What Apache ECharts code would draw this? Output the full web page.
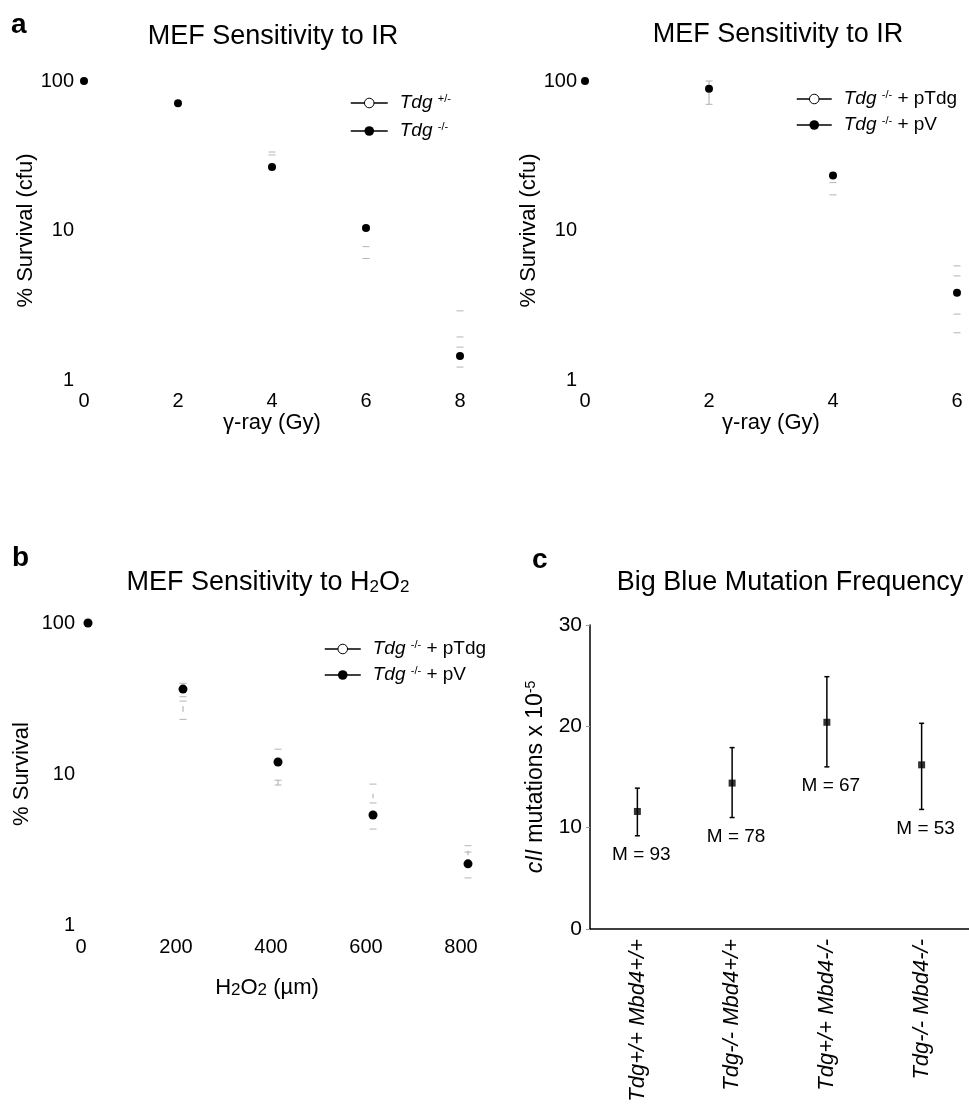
<!DOCTYPE html>
<html>
<head>
<meta charset="utf-8">
<script src="https://cdn.jsdelivr.net/npm/echarts@6/dist/echarts.min.js"></script>
<style>
  html, body { margin: 0; padding: 0; background: #fff; }
  #main { width: 969px; height: 1105px; }
</style>
</head>
<body>
<div id="main"></div>
<script>
// panel a (left): IR dose vs survival, Tdg-/- dots
const doseA1 = [0, 2, 4, 6, 8];
const survKoA1 = [100, 71, 26.6, 10.4, 1.45];
// faint grey error caps [dose, value]
const capsA1 = [[4, 33.5], [4, 32.0], [6, 7.8], [6, 6.5], [8, 2.9], [8, 1.94], [8, 1.66], [8, 1.22]];

// panel a (right): complemented cells
const doseA2 = [0, 2, 4, 6];
const survPvA2 = [100, 88.9, 23.3, 3.84];
const capsA2 = [[2, 100], [2, 69.8], [4, 20.9], [4, 17.3], [6, 5.8], [6, 4.97], [6, 2.76], [6, 2.07]];
const stemsA2 = [[2, 69.8, 100]];

// panel b: H2O2 dose vs survival
const doseB = [0, 200, 400, 600, 800];
const survPvB = [100, 36.5, 12.0, 5.35, 2.54];
const capsB = [[200, 39.9], [200, 32.5], [200, 30.4], [200, 23.0], [400, 14.6], [400, 9.1], [400, 8.45],
  [600, 8.57], [600, 6.43], [600, 4.32], [800, 3.35], [800, 3.04], [800, 2.05]];
const stemsB = [[200, 25.8, 28.2], [400, 8.45, 9.1], [600, 6.9, 7.4], [800, 2.9, 3.1]];

// panel c: Big Blue mutation frequency
const genotypes = ['Tdg+/+ Mbd4+/+', 'Tdg-/- Mbd4+/+', 'Tdg+/+ Mbd4-/-', 'Tdg-/- Mbd4-/-'];
const mutFreq = [11.6, 14.4, 20.4, 16.2];
const mutLow = [9.2, 11.0, 16.0, 11.8];
const mutHigh = [13.9, 17.9, 24.9, 20.3];
const mouseCounts = [93, 78, 67, 53];

const FONT = '"Liberation Sans", Arial, sans-serif';

const legendText = {
  a1_het: '{i|Tdg} {s|+/-}',
  a1_ko: '{i|Tdg} {s|-/-}',
  a2_ptdg: '{i|Tdg} {s|-/-} + pTdg',
  a2_pv: '{i|Tdg} {s|-/-} + pV',
  b_ptdg: '{i|Tdg} {s|-/-} + pTdg',
  b_pv: '{i|Tdg} {s|-/-} + pV'
};

function renderCap(params, api) {
  const p = api.coord([api.value(0), api.value(1)]);
  return {
    type: 'line',
    shape: { x1: p[0] - 3.5, y1: p[1], x2: p[0] + 3.5, y2: p[1] },
    style: { stroke: '#b4b4b4', lineWidth: 1 }
  };
}

function renderStem(params, api) {
  const a = api.coord([api.value(0), api.value(1)]);
  const b = api.coord([api.value(0), api.value(2)]);
  return {
    type: 'line',
    shape: { x1: a[0], y1: a[1], x2: b[0], y2: b[1] },
    style: { stroke: '#a8a8a8', lineWidth: 1 }
  };
}

function renderMutBar(params, api) {
  const i = api.value(0);
  const lo = api.coord([i, api.value(2)]);
  const hi = api.coord([i, api.value(3)]);
  const s = { stroke: '#000', lineWidth: 1.5 };
  return {
    type: 'group',
    children: [
      { type: 'line', shape: { x1: lo[0], y1: lo[1], x2: hi[0], y2: hi[1] }, style: s },
      { type: 'line', shape: { x1: lo[0] - 2.5, y1: lo[1], x2: lo[0] + 2.5, y2: lo[1] }, style: s },
      { type: 'line', shape: { x1: hi[0] - 2.5, y1: hi[1], x2: hi[0] + 2.5, y2: hi[1] }, style: s },
      {
        type: 'text',
        style: {
          text: 'M = ' + api.value(4), x: lo[0] + 4, y: lo[1] + 19,
          fill: '#000', fontSize: 19, fontFamily: FONT, align: 'center', verticalAlign: 'middle'
        }
      }
    ]
  };
}

function makeLegend(names, left, top, width, gap) {
  return {
    orient: 'vertical',
    left: left,
    top: top,
    itemWidth: width,
    itemHeight: 12,
    itemGap: gap,
    selectedMode: false,
    data: [
      { name: names[0], itemStyle: { color: '#fff', borderColor: '#000', borderWidth: 1 } },
      { name: names[1], itemStyle: { color: '#000' } }
    ],
    lineStyle: { color: '#000', width: 1.5, opacity: 1 },
    formatter: function (name) { return legendText[name]; },
    textStyle: {
      fontFamily: FONT, fontSize: 19, color: '#000', lineHeight: 20, padding: [0, 0, 0, 7],
      rich: {
        i: { fontStyle: 'italic', fontSize: 19, fontFamily: FONT, lineHeight: 20 },
        s: { fontSize: 11, fontFamily: FONT, lineHeight: 10, verticalAlign: 'top' }
      }
    }
  };
}

function logAxis(grid, name, gap, margin) {
  return {
    type: 'log', gridIndex: grid, logBase: 10, min: 1, max: 100,
    axisLine: { show: false }, axisTick: { show: false }, splitLine: { show: false },
    axisLabel: { fontFamily: FONT, fontSize: 20, color: '#000', margin: margin },
    name: name, nameLocation: 'middle', nameGap: gap,
    nameTextStyle: { fontFamily: FONT, fontSize: 22, color: '#000' }
  };
}

function doseAxis(grid, max, interval) {
  return {
    type: 'value', gridIndex: grid, min: 0, max: max, interval: interval,
    axisLine: { show: false }, axisTick: { show: false }, splitLine: { show: false },
    axisLabel: { fontFamily: FONT, fontSize: 20, color: '#000', margin: 11 },
    name: 'γ-ray (Gy)', nameLocation: 'middle', nameGap: 32,
    nameTextStyle: { fontFamily: FONT, fontSize: 22, color: '#000' }
  };
}

const subRich = {
  sub: { fontSize: 17, fontFamily: FONT, lineHeight: 12, verticalAlign: 'bottom' }
};

const chart = echarts.init(document.getElementById('main'));

const option = {
  animation: false,
  backgroundColor: '#fff',
  title: [
    { text: 'a', left: 6, top: 6, textStyle: { fontFamily: FONT, fontSize: 28, fontWeight: 'bold', color: '#000' } },
    { text: 'b', left: 7, top: 539, textStyle: { fontFamily: FONT, fontSize: 28, fontWeight: 'bold', color: '#000' } },
    { text: 'c', left: 527, top: 541, textStyle: { fontFamily: FONT, fontSize: 28, fontWeight: 'bold', color: '#000' } },
    { text: 'MEF Sensitivity to IR', left: 268, top: 18, textAlign: 'center',
      textStyle: { fontFamily: FONT, fontSize: 27, fontWeight: 'normal', color: '#000' } },
    { text: 'MEF Sensitivity to IR', left: 773, top: 16, textAlign: 'center',
      textStyle: { fontFamily: FONT, fontSize: 27, fontWeight: 'normal', color: '#000' } },
    { text: 'MEF Sensitivity to H{sub|2}O{sub|2}', left: 263, top: 564, textAlign: 'center',
      textStyle: { fontFamily: FONT, fontSize: 27, fontWeight: 'normal', color: '#000', rich: subRich } },
    { text: 'Big Blue Mutation Frequency', left: 785, top: 564, textAlign: 'center',
      textStyle: { fontFamily: FONT, fontSize: 27, fontWeight: 'normal', color: '#000' } }
  ],
  legend: [
    makeLegend(['a1_het', 'a1_ko'], 345, 88, 37, 8),
    makeLegend(['a2_ptdg', 'a2_pv'], 791, 84, 35, 6),
    makeLegend(['b_ptdg', 'b_pv'], 319, 634, 36, 6)
  ],
  grid: [
    { left: 84, top: 81, width: 376, height: 299 },
    { left: 585, top: 81, width: 372, height: 299 },
    { left: 88, top: 623, width: 380, height: 302 },
    { left: 590, top: 625, width: 380, height: 304 }
  ],
  xAxis: [
    doseAxis(0, 8, 2),
    doseAxis(1, 6, 2),
    {
      type: 'value', gridIndex: 2, min: 0, max: 800, interval: 200,
      axisLine: { show: false }, axisTick: { show: false }, splitLine: { show: false },
      axisLabel: { fontFamily: FONT, fontSize: 20, color: '#000', margin: 12, padding: [0, 14, 0, 0] },
      name: 'H{sub|2}O{sub|2} (µm)', nameLocation: 'middle', nameGap: 52,
      nameTextStyle: { fontFamily: FONT, fontSize: 22, color: '#000', padding: [0, 22, 0, 0], rich: subRich }
    },
    {
      type: 'category', gridIndex: 3, data: genotypes, boundaryGap: true,
      axisLine: { lineStyle: { color: '#000', width: 1.5 } },
      axisTick: { alignWithLabel: true, length: 5, lineStyle: { color: '#000', width: 1.5 } },
      axisLabel: { rotate: 90, interval: 0, margin: 10, fontFamily: FONT, fontSize: 22, fontStyle: 'italic', color: '#000' },
      splitLine: { show: false }
    }
  ],
  yAxis: [
    logAxis(0, '% Survival (cfu)', 40, 10),
    logAxis(1, '% Survival (cfu)', 37, 8),
    logAxis(2, '% Survival', 55, 13),
    {
      type: 'value', gridIndex: 3, min: 0, max: 30, interval: 10,
      axisLine: { show: true, lineStyle: { color: '#000', width: 1.5 } },
      axisTick: { show: true, length: 4, lineStyle: { color: '#999', width: 1 } },
      splitLine: { show: false },
      axisLabel: { fontFamily: FONT, fontSize: 21, color: '#000', margin: 8 },
      name: '{i|cII} mutations x 10{s|-5}', nameLocation: 'middle', nameGap: 43,
      nameTextStyle: {
        fontFamily: FONT, fontSize: 23, color: '#000',
        rich: {
          i: { fontStyle: 'italic', fontFamily: FONT, fontSize: 23 },
          s: { fontFamily: FONT, fontSize: 14, lineHeight: 12, verticalAlign: 'top' }
        }
      }
    }
  ],
  series: [
    // panel a left
    { name: 'a1_het', type: 'line', xAxisIndex: 0, yAxisIndex: 0, data: [], symbol: 'circle',
      itemStyle: { color: '#fff', borderColor: '#000' }, lineStyle: { color: '#000' } },
    { name: 'a1_ko', type: 'line', xAxisIndex: 0, yAxisIndex: 0, symbol: 'circle', symbolSize: 8,
      data: doseA1.map((d, i) => [d, survKoA1[i]]),
      itemStyle: { color: '#000' }, lineStyle: { opacity: 0 }, z: 5 },
    { type: 'custom', xAxisIndex: 0, yAxisIndex: 0, data: capsA1, renderItem: renderCap, z: 3 },
    // panel a right
    { name: 'a2_ptdg', type: 'line', xAxisIndex: 1, yAxisIndex: 1, data: [], symbol: 'circle',
      itemStyle: { color: '#fff', borderColor: '#000' }, lineStyle: { color: '#000' } },
    { name: 'a2_pv', type: 'line', xAxisIndex: 1, yAxisIndex: 1, symbol: 'circle', symbolSize: 8,
      data: doseA2.map((d, i) => [d, survPvA2[i]]),
      itemStyle: { color: '#000' }, lineStyle: { opacity: 0 }, z: 5 },
    { type: 'custom', xAxisIndex: 1, yAxisIndex: 1, data: capsA2, renderItem: renderCap, z: 3 },
    { type: 'custom', xAxisIndex: 1, yAxisIndex: 1, data: stemsA2, renderItem: renderStem,
      encode: { x: 0, y: [1, 2] }, z: 3 },
    // panel b
    { name: 'b_ptdg', type: 'line', xAxisIndex: 2, yAxisIndex: 2, data: [], symbol: 'circle',
      itemStyle: { color: '#fff', borderColor: '#000' }, lineStyle: { color: '#000' } },
    { name: 'b_pv', type: 'line', xAxisIndex: 2, yAxisIndex: 2, symbol: 'circle', symbolSize: 9,
      data: doseB.map((d, i) => [d, survPvB[i]]),
      itemStyle: { color: '#000' }, lineStyle: { opacity: 0 }, z: 5 },
    { type: 'custom', xAxisIndex: 2, yAxisIndex: 2, data: capsB, renderItem: renderCap, z: 3 },
    { type: 'custom', xAxisIndex: 2, yAxisIndex: 2, data: stemsB, renderItem: renderStem,
      encode: { x: 0, y: [1, 2] }, z: 3 },
    // panel c
    { type: 'custom', xAxisIndex: 3, yAxisIndex: 3, renderItem: renderMutBar,
      encode: { x: 0, y: [1, 2, 3] },
      data: genotypes.map((g, i) => [i, mutFreq[i], mutLow[i], mutHigh[i], mouseCounts[i]]), z: 3 },
    { type: 'scatter', xAxisIndex: 3, yAxisIndex: 3, symbol: 'rect', symbolSize: 7,
      data: mutFreq, itemStyle: { color: '#000' }, z: 5 }
  ]
};

chart.setOption(option);
</script>
</body>
</html>
